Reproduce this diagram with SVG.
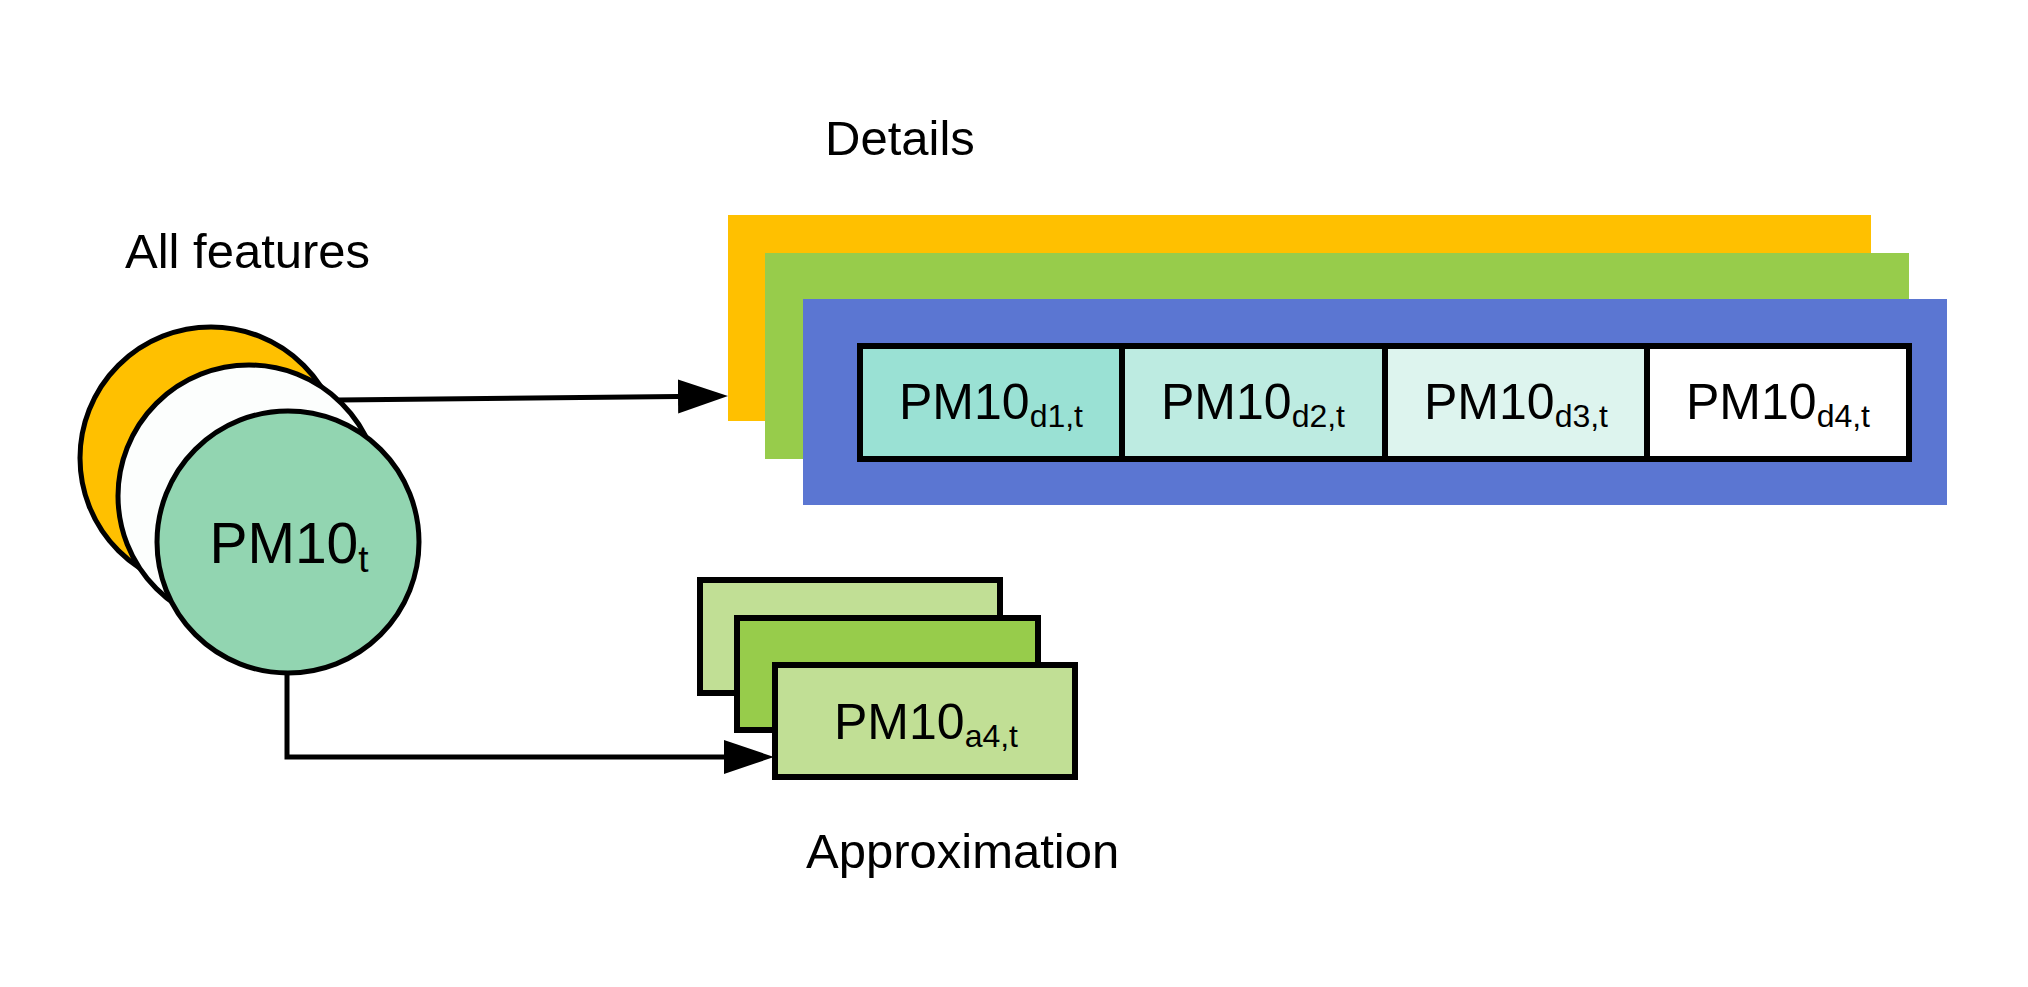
<svg xmlns="http://www.w3.org/2000/svg" width="2028" height="987" viewBox="0 0 2028 987">
<style>
text{font-family:"Liberation Sans",Arial,sans-serif;fill:#000}
.lbl{font-size:49px}
.cell{font-size:50px}
.circ{stroke:#000;stroke-width:5}
.box{stroke:#000;stroke-width:6}
.conn{fill:none;stroke:#000;stroke-width:5}
</style>
<defs>
<marker id="ah" markerUnits="userSpaceOnUse" markerWidth="52" markerHeight="36" refX="0" refY="17" orient="auto" viewBox="0 0 52 34">
<path d="M0,0 L50,17 L0,34 z" fill="#000"/>
</marker>
</defs>
<rect width="2028" height="987" fill="#fff"/>
<text class="lbl" x="125" y="268">All features</text>
<text class="lbl" x="825" y="155">Details</text>
<text class="lbl" x="806" y="868">Approximation</text>

<g id="features">
<circle class="circ" cx="211" cy="458" r="131" fill="#FFC000"/>
<circle class="circ" cx="249" cy="496" r="131" fill="#FCFEFD"/>
</g>
<g id="connectors">
<path class="conn" d="M339,400 L678,396.5" marker-end="url(#ah)"/>
<path class="conn" d="M287,674 L287,757 L724,757" marker-end="url(#ah)"/>
</g>
<g id="pm10t">
<circle class="circ" cx="288" cy="542" r="131" fill="#92D5B1"/>
<text x="289" y="563" text-anchor="middle" style="font-size:57px">PM10<tspan style="font-size:37px" dy="9">t</tspan></text>
</g>

<g id="details">
<rect x="728" y="215" width="1143" height="206" fill="#FFC000"/>
<rect x="765" y="253" width="1144" height="206" fill="#97CC4B"/>
<rect x="803" y="299" width="1144" height="206" fill="#5B76D2"/>
<g id="d1"><rect class="box" x="860" y="346" width="262" height="113" fill="#9AE1D4"/>
<text class="cell" x="991" y="419" text-anchor="middle">PM10<tspan style="font-size:32px" dy="8">d1,t</tspan></text></g>
<g id="d2"><rect class="box" x="1122" y="346" width="263" height="113" fill="#BDEBE1"/>
<text class="cell" x="1253" y="419" text-anchor="middle">PM10<tspan style="font-size:32px" dy="8">d2,t</tspan></text></g>
<g id="d3"><rect class="box" x="1385" y="346" width="262" height="113" fill="#DDF4EE"/>
<text class="cell" x="1516" y="419" text-anchor="middle">PM10<tspan style="font-size:32px" dy="8">d3,t</tspan></text></g>
<g id="d4"><rect class="box" x="1647" y="346" width="262" height="113" fill="#FFFFFF"/>
<text class="cell" x="1778" y="419" text-anchor="middle">PM10<tspan style="font-size:32px" dy="8">d4,t</tspan></text></g>
</g>

<g id="approx">
<rect class="box" x="700" y="580" width="300" height="113" fill="#C1DF95"/>
<rect class="box" x="737" y="618" width="301" height="112" fill="#97CC4B"/>
<rect class="box" x="775" y="665" width="300" height="112" fill="#C1DF95"/>
<text class="cell" x="926" y="739" text-anchor="middle">PM10<tspan style="font-size:32px" dy="8">a4,t</tspan></text>
</g>
</svg>
